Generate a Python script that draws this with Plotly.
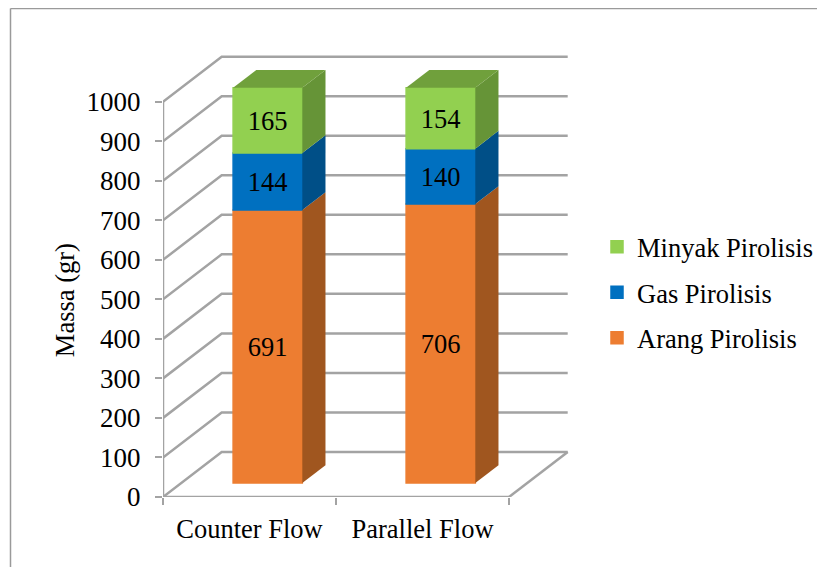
import plotly.graph_objects as go

# Data
categories = ['Counter Flow', 'Parallel Flow']
arang = [691, 706]
gas = [144, 140]
minyak = [165, 154]
y_ticks = [0, 100, 200, 300, 400, 500, 600, 700, 800, 900, 1000]

FONT = 'Liberation Serif'
GRID = '#A3A3A3'

# pixel layout of the plot box, in picture coordinates
PAGE_W, PAGE_H = 825, 567
BODY_MARGIN = 8  # the html page pushes the figure by this much
LEFT, RIGHT, TOP, BOTTOM = 163, 570, 50, 496.7
CAT_PX = 173.0
VAL_PX = 0.395

# fake 3D: how far the back wall is shifted, in axis units
DEPTH_X = 58.7 / CAT_PX
DEPTH_Y = 45 / VAL_PX
BAR_FRONT = 0.31
BAR_BACK = 0.705
BAR_WIDTH = 0.4
LABEL_NUDGE = 3 / VAL_PX  # value labels sit slightly under the middle of the face

series = [
    ('Arang Pirolisis', arang, '#ED7D31', '#A0561F', 3),
    ('Gas Pirolisis', gas, '#0070C0', '#004F87', 2),
    ('Minyak Pirolisis', minyak, '#92D050', '#669437', 1),
]
TOP_FACE = '#70A03C'


def shift(x, y, depth):
    return x + DEPTH_X * depth, y + DEPTH_Y * depth


def paper_x(px):
    return (px - LEFT) / (RIGHT - LEFT)


def paper_y(px):
    return (BOTTOM - px) / (BOTTOM - TOP)


fig = go.Figure()

# walls and floor
grid_x, grid_y = [], []
for v in y_ticks:
    bx, by = shift(-0.5, v, 1)
    grid_x += [-0.5, bx, 1.5 + DEPTH_X, None]
    grid_y += [v, by, by, None]
grid_x += [1.5, 1.5 + DEPTH_X]
grid_y += [0, DEPTH_Y]
fig.add_trace(go.Scatter(x=grid_x, y=grid_y, mode='lines', showlegend=False, hoverinfo='skip',
                         line=dict(color=GRID, width=2.5), cliponaxis=False, zorder=-1))

# axis lines
fig.add_trace(go.Scatter(x=[-0.5, -0.5, 1.5], y=[y_ticks[-1], 0, 0], mode='lines', showlegend=False,
                         hoverinfo='skip', line=dict(color=GRID, width=2.5), cliponaxis=False, zorder=-1))

# stacked bars
bottoms = [0, 0]
label_x, label_y, label_text = [], [], []
for name, values, color, side, rank in series:
    bar_x = []
    bar_base = []
    for i, val in enumerate(values):
        x0, y0 = shift(i, bottoms[i], BAR_FRONT)
        bar_x.append(x0)
        bar_base.append(y0)
        label_x.append(x0)
        label_y.append(y0 + val / 2 - LABEL_NUDGE)
        label_text.append(str(val))

        # side face
        x1 = x0 + BAR_WIDTH / 2
        bx, by = shift(i + BAR_WIDTH / 2, bottoms[i], BAR_BACK)
        fig.add_trace(go.Scatter(x=[x1, x1, bx, bx, x1], y=[y0, y0 + val, by + val, by, y0],
                                 mode='lines', fill='toself', fillcolor=side, line=dict(width=0),
                                 showlegend=False, hoverinfo='skip', zorder=1))
    fig.add_trace(go.Bar(x=bar_x, y=values, base=bar_base, width=BAR_WIDTH, name=name,
                         legendgroup=name, legendrank=rank,
                         marker=dict(color=color, line=dict(color=color, width=1.5)), zorder=0))
    bottoms = [b + v for b, v in zip(bottoms, values)]

# top face of the stack
for i, total in enumerate(bottoms):
    fx, fy = shift(i, total, BAR_FRONT)
    bx, by = shift(i, total, BAR_BACK)
    half = BAR_WIDTH / 2
    fig.add_trace(go.Scatter(x=[fx - half, fx + half, bx + half, bx - half, fx - half],
                             y=[fy, fy, by, by, fy], mode='lines', fill='toself', fillcolor=TOP_FACE,
                             line=dict(width=0), showlegend=False, hoverinfo='skip', zorder=1))

# value labels
fig.add_trace(go.Scatter(x=label_x, y=label_y, mode='text', text=label_text, textposition='middle center',
                         textfont=dict(family=FONT, size=26.5, color='black'), showlegend=False,
                         hoverinfo='skip', zorder=2))

fig.update_layout(
    width=PAGE_W - BODY_MARGIN,
    height=PAGE_H - BODY_MARGIN,
    autosize=False,
    barmode='overlay',
    paper_bgcolor='white',
    plot_bgcolor='white',
    margin=dict(l=LEFT - BODY_MARGIN, r=PAGE_W - RIGHT, t=TOP - BODY_MARGIN, b=PAGE_H - BOTTOM, pad=0,
                autoexpand=False),
    font=dict(family=FONT, size=26.5, color='black'),
    legend=dict(
        x=paper_x(597),
        y=paper_y(223),
        xanchor='left',
        yanchor='top',
        tracegroupgap=8,
        itemclick=False,
        font=dict(family=FONT, size=26.5, color='black'),
    ),
    xaxis=dict(
        range=[-0.5, -0.5 + (RIGHT - LEFT) / CAT_PX],
        tickmode='array',
        tickvals=[0, 1],
        ticktext=categories,
        tickfont=dict(family=FONT, size=26.5),
        ticks='',
        showgrid=False,
        zeroline=False,
        showline=False,
        ticklabelstandoff=13,
        minor=dict(tickmode='array', tickvals=[-0.5, 0.5, 1.5], ticks='outside', ticklen=7,
                   tickwidth=2, tickcolor=GRID, showgrid=False),
    ),
    yaxis=dict(
        range=[0, (BOTTOM - TOP) / VAL_PX],
        tickmode='array',
        tickvals=y_ticks,
        tickfont=dict(family=FONT, size=27),
        ticks='outside',
        ticklen=7,
        tickwidth=2,
        tickcolor=GRID,
        showgrid=False,
        zeroline=False,
        showline=False,
        ticklabelstandoff=9,
    ),
    # the axis title sits lower than the middle of the box, so it is an annotation
    annotations=[
        dict(text='Massa (gr)', textangle=-90, xref='paper', yref='paper', x=paper_x(65), y=paper_y(300),
             xanchor='center', yanchor='middle', showarrow=False, font=dict(family=FONT, size=26.5, color='black')),
    ],
    # frame of the picture, only left and top edges are visible
    shapes=[
        dict(type='line', xref='paper', yref='paper', x0=paper_x(10.5), x1=paper_x(10.5),
             y0=paper_y(8.5), y1=paper_y(PAGE_H), line=dict(color='#9A9A9A', width=1.5)),
        dict(type='line', xref='paper', yref='paper', x0=paper_x(10.5), x1=paper_x(PAGE_W),
             y0=paper_y(8.5), y1=paper_y(8.5), line=dict(color='#9A9A9A', width=1.5)),
    ],
)

fig.write_html("out.html")
